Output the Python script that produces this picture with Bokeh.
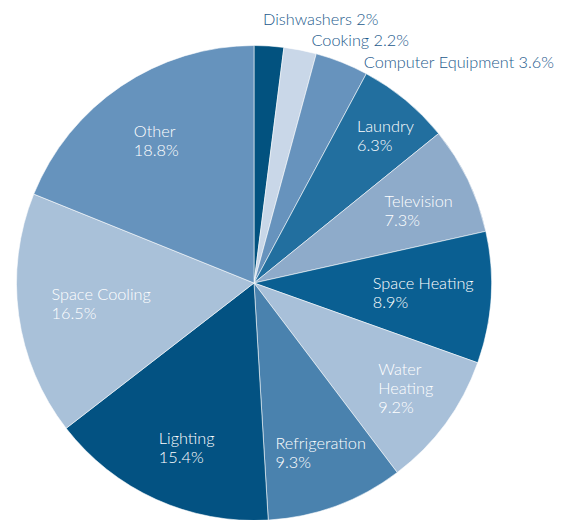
import math
from bokeh.plotting import figure
from bokeh.models import ColumnDataSource, Range1d
from bokeh.core.properties import value
from bokeh.embed import file_html
from bokeh.resources import INLINE

# ---- data ----
categories = ["Dishwashers", "Cooking", "Computer Equipment", "Laundry", "Television",
              "Space Heating", "Water Heating", "Refrigeration", "Lighting",
              "Space Cooling", "Other"]
shares = [2.0, 2.2, 3.6, 6.3, 7.3, 8.9, 9.2, 9.3, 15.4, 16.5, 18.8]
colors = ["#02527f", "#c9d7e8", "#6793bd", "#226f9f", "#8eabca", "#0a5f92",
          "#a8c0d9", "#4a82ae", "#035282", "#a9c1d9", "#6693bd"]
label_lines = [["Dishwashers 2%"], ["Cooking 2.2%"], ["Computer Equipment 3.6%"],
               ["Laundry", "6.3%"], ["Television", "7.3%"], ["Space Heating", "8.9%"],
               ["Water", "Heating", "9.2%"], ["Refrigeration", "9.3%"],
               ["Lighting", "15.4%"], ["Space Cooling", "16.5%"], ["Other", "18.8%"]]
label_outside = [True, True, True] + [False] * 8

# ---- layout (page pixels) ----
W, H = 558, 520
PAGE_H = 520
CX, CY, R = 253.5, 282.5, 237.5
label_anchor = [(262.5, 24), (311, 45.3), (363.3, 66.7), (356.5, 130.7), (384, 206),
                (372.3, 287.7), (377.7, 374), (275, 448.3), (158.3, 443.3),
                (51, 299), (133.3, 136)]
LINE_H = 18.9
BASELINE_FIX = -6.0

def py(v):
    return PAGE_H - v

total = sum(shares)
starts, ends = [], []
cum = 0.0
for s in shares:
    starts.append(math.pi / 2 - 2 * math.pi * cum / total)
    cum += s
    ends.append(math.pi / 2 - 2 * math.pi * cum / total)

wsrc = ColumnDataSource(dict(cat=categories, start=starts, end=ends, color=colors,
                             x=[CX] * len(shares), y=[py(CY)] * len(shares)))

p = figure(width=W, height=H, output_backend="svg", toolbar_location=None,
           x_range=Range1d(0, W), y_range=Range1d(PAGE_H - H, PAGE_H),
           min_border=0)
p.axis.visible = False
p.grid.visible = False
p.outline_line_color = None
p.background_fill_color = "white"

p.wedge(x="x", y="y", radius=R, start_angle="start", end_angle="end",
        direction="clock", fill_color="color", line_color="white",
        line_width=0.8, line_alpha=0.7, source=wsrc)

tx, ty, tt, tc = [], [], [], []
for lines, (lx, ly), out in zip(label_lines, label_anchor, label_outside):
    for i, ln in enumerate(lines):
        tx.append(lx)
        ty.append(py(ly + i * LINE_H + BASELINE_FIX))
        tt.append(ln)
        tc.append("#1d5a8c" if out else "white")
tsrc = ColumnDataSource(dict(x=tx, y=ty, t=tt, c=tc))
p.text(x="x", y="y", text="t", text_color="c", text_font=value("Lato Light"),
       text_font_size="16.3px", text_align="left", text_baseline="alphabetic",
       source=tsrc)

open("out.html", "w").write(file_html(p, INLINE))
